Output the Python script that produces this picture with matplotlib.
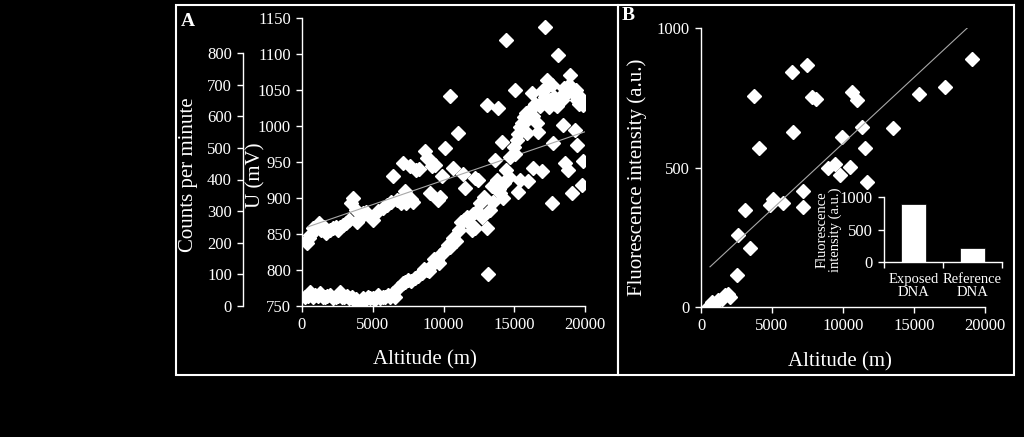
import matplotlib
matplotlib.use("Agg")
import matplotlib.pyplot as plt
from matplotlib.patches import Rectangle

# ---- data ----
# panel A, upper series: U (mV) against altitude (m)
mv_alt = [335, 500, 574, 800, 932, 1170, 1350, 1530, 1700, 2010, 2200, 2370,
          2550, 2720, 2900, 3080, 3300, 3440, 3600, 3800, 3920, 4100, 4280,
          4500, 4880, 5000, 5400, 5710, 6000, 6310, 6440, 6700, 7000, 7140,
          7270, 7300, 7380, 7600, 7700, 7860, 8090, 8300, 8680, 8800, 9020,
          9060, 9200, 9390, 9600, 9780, 9860, 10090, 10450, 10680, 11030,
          11390, 11510, 12210, 12450, 13040, 13630, 13860, 14100, 14220, 14450,
          15040, 15280, 15400, 15990, 16220, 16340, 16690, 16930, 17170, 17280,
          17640, 17760, 18110, 18460, 18580, 18820, 18940, 19050, 19290, 19360,
          19410, 19760, 19830, 19830]
mv_val = [837, 845, 849, 858, 856, 865, 856, 860, 852, 856, 858, 860,
          855, 860, 862, 865, 870, 893, 900, 883, 867, 872, 879,
          880, 874, 870, 882, 886, 890, 895, 930, 897, 893, 948,
          904, 910, 893, 944, 898, 895, 939, 940, 965, 955, 953,
          907, 945, 946, 897, 902, 930, 969, 1041, 941, 990,
          934, 914, 928, 925, 1029, 953, 1025, 978, 900, 1120,
          1050, 909, 925, 923, 1046, 941, 992, 937, 1138, 1064,
          893, 976, 1099, 1002, 948, 939, 1071, 907, 995, 1050,
          974, 918, 951, 1029]
mv_trend_alt = [424, 20000]
mv_trend_val = [860, 992]

# panel A, lower series: counts per minute against altitude (m)
cpm_alt = [215, 400, 574, 750, 932, 1100, 1290, 1450, 1650, 1800, 2010, 2200,
           2370, 2550, 2680, 2850, 2960, 3150, 3320, 3500, 3680, 3850, 4040,
           4280, 4450, 4640, 4800, 5000, 5150, 5350, 5500, 5710, 5900, 6070,
           6250, 6430, 6600, 6790, 7150, 7300, 7500, 7700, 7980, 8200, 8460,
           8650, 8820, 9000, 9180, 9350, 9540, 9650, 9780, 10000, 10130, 10300,
           10490, 10700, 10850, 11100, 11270, 11450, 11630, 11800, 11980, 12050,
           12220, 12400, 12590, 12700, 12830, 13060, 13160, 13300, 13420, 13500,
           13770, 13900, 14010, 14300, 14450, 14600, 14710, 14950, 15050, 15190,
           15300, 15420, 15550, 15660, 15800, 15890, 16000, 16130, 16300, 16500,
           16600, 16830, 16950, 17070, 17200, 17310, 17450, 17550, 17650, 17780,
           17900, 18020, 18200, 18370, 18550, 18720, 18900, 19080, 19200, 19430,
           19550, 19660]
cpm_val = [30, 33, 45, 28, 35, 32, 40, 27, 30, 33, 35, 26,
           30, 31, 45, 28, 30, 33, 24, 27, 19, 22, 8,
           24, 20, 30, 26, 24, 22, 35, 25, 30, 27, 35,
           30, 40, 28, 56, 72, 75, 83, 80, 88, 96, 103,
           118, 114, 112, 130, 150, 146, 135, 162, 170, 177, 192,
           188, 214, 204, 240, 267, 272, 283, 262, 240, 290,
           247, 300, 325, 280, 346, 247, 101, 304, 378, 330,
           399, 370, 357, 390, 430, 409, 472, 504, 480, 525,
           545, 567, 580, 599, 610, 547, 590, 620, 600, 640,
           578, 631, 680, 652, 660, 694, 630, 652, 700, 662,
           640, 631, 660, 652, 690, 673, 700, 689, 670, 652,
           640, 662]

# panel B: fluorescence intensity (a.u.) against altitude (m)
fl_alt = [516, 750, 986, 1220, 1455, 1690, 1925, 2040, 2510, 2630, 3100, 3450,
          3755, 4080, 4860, 5090, 5800, 6380, 6500, 7200, 7200, 7440, 7790,
          8070, 8970, 9440, 9790, 9900, 10490, 10610, 11010, 11310, 11550,
          11660, 13540, 15350, 17180, 19100]
fl_val = [0, 18, 12, 24, 30, 42, 48, 36, 114, 257, 347, 210,
          758, 571, 365, 387, 371, 844, 629, 359, 416, 868, 754,
          746, 497, 511, 473, 611, 503, 769, 742, 644, 571,
          449, 641, 763, 790, 889]
fl_trend_alt = [634, 18750]
fl_trend_val = [144, 1000]

# inset bars
dna_labels = ["Exposed\nDNA", "Reference\nDNA"]
dna_values = [890, 210]

W, H = 1024, 437
plt.rcParams['font.family'] = ['Liberation Serif', 'DejaVu Serif']
fig = plt.figure(figsize=(W / 100, H / 100), dpi=100, facecolor='black')


def fx(px):
    return px / W


def fy(py):
    return 1 - py / H


def style(ax, size=12):
    ax.set_facecolor('none')
    for s in ax.spines.values():
        s.set_color('white')
        s.set_linewidth(1.0)
    ax.spines['top'].set_visible(False)
    ax.spines['right'].set_visible(False)
    ax.tick_params(colors='white', labelcolor='white', labelsize=size,
                   direction='out', length=4, width=1.0, pad=4)


mk = dict(marker='D', ms=6.8, color='white', linestyle='none', mec='white')

# ---- panel A ----
axA = fig.add_axes([fx(302), fy(306), fx(585) - fx(302), fy(18) - fy(306)])
style(axA)
axA.plot(mv_alt, mv_val, **mk)
axA.plot(mv_trend_alt, mv_trend_val, color='#a8a8a8', lw=0.8)
axA.set_xlim(0, 20000)
axA.set_ylim(750, 1150)
axA.set_xticks([0, 5000, 10000, 15000, 20000])
axA.set_yticks(range(750, 1151, 50))

axC = axA.twinx()
style(axC)
axC.spines['right'].set_visible(False)
axC.spines['bottom'].set_visible(False)
axC.spines['left'].set_visible(True)
axC.spines['left'].set_position(('outward', 59 * 0.72))
axC.spines['left'].set_bounds(0, 800)
axC.yaxis.set_ticks_position('left')
axC.plot(cpm_alt, cpm_val, **mk)
axC.set_ylim(0, 800 * 288 / 253)
axC.set_yticks(range(0, 801, 100))

fig.text(fx(188), fy(175), "Counts per minute", color='white', fontsize=15,
         rotation=90, ha='center', va='center')
fig.text(fx(256), fy(175), "U (mV)", color='white', fontsize=15,
         rotation=90, ha='center', va='center')
fig.text(fx(425), fy(360), "Altitude (m)", color='white', fontsize=15,
         ha='center', va='center')
fig.text(fx(188), fy(22), "A", color='white', fontsize=14, fontweight='bold',
         ha='center', va='center')

# ---- panel B ----
axB = fig.add_axes([fx(701), fy(307), fx(985) - fx(701), fy(28) - fy(307)])
style(axB)
axB.plot(fl_alt, fl_val, **mk)
axB.plot(fl_trend_alt, fl_trend_val, color='#a8a8a8', lw=0.8)
axB.set_xlim(0, 20000)
axB.set_ylim(0, 1000)
axB.set_xticks([0, 5000, 10000, 15000, 20000])
axB.set_yticks([0, 500, 1000])

fig.text(fx(637), fy(177), "Fluorescence intensity (a.u.)", color='white',
         fontsize=15, rotation=90, ha='center', va='center')
fig.text(fx(840), fy(362), "Altitude (m)", color='white', fontsize=15,
         ha='center', va='center')
fig.text(fx(628), fy(15), "B", color='white', fontsize=14, fontweight='bold',
         ha='center', va='center')

# ---- inset ----
axI = fig.add_axes([fx(884), fy(262), fx(1002) - fx(884), fy(197) - fy(262)])
style(axI)
axI.bar(range(len(dna_values)), dna_values, width=0.42, color='white',
        edgecolor='black', linewidth=0.5)
axI.set_xlim(-0.5, 1.5)
axI.set_ylim(0, 1000)
axI.set_yticks([0, 500, 1000])
axI.set_xticks([-0.5, 0.5, 1.5])
axI.set_xticklabels([])
axI.set_xticks([0, 1], minor=True)
axI.set_xticklabels(dna_labels, minor=True, fontsize=10.5, color='white',
                    linespacing=1.0)
axI.tick_params(axis='x', which='minor', length=0, pad=8)
fig.text(fx(829), fy(230), "Fluorescence\nintensity (a.u.)", color='white',
         fontsize=10.5, rotation=90, ha='center', va='center', linespacing=1.0)

# ---- panel frames ----
for x0, x1 in [(176, 618), (618, 1014)]:
    fig.add_artist(Rectangle((fx(x0), fy(375)), fx(x1) - fx(x0),
                             fy(5) - fy(375), transform=fig.transFigure,
                             fill=False, edgecolor='white', linewidth=1.5))

fig.savefig("out.png", dpi=100, facecolor='black')
